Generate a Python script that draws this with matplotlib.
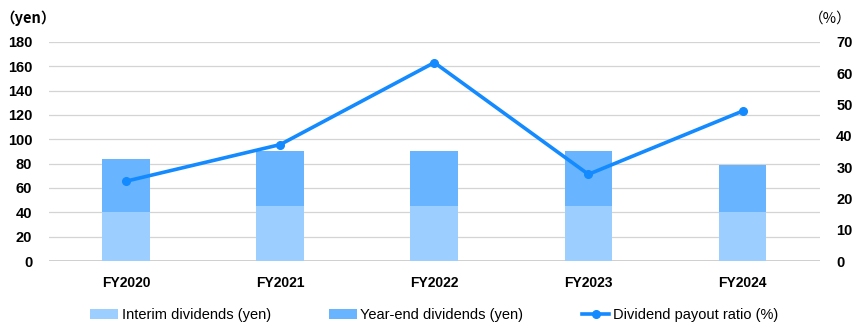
import matplotlib.pyplot as plt
import numpy as np

plt.rcParams['font.family'] = ['Liberation Sans', 'DejaVu Sans']

years = ['FY2020', 'FY2021', 'FY2022', 'FY2023', 'FY2024']
interim = [40, 45, 45, 45, 40]
year_end = [44, 45, 45, 45, 39]
payout = [25.5, 37.2, 63.4, 27.7, 47.9]

c_interim = '#9ccfff'
c_yearend = '#68b4ff'
c_line = '#148aff'

fig = plt.figure(figsize=(8.6, 3.3), dpi=100)
ax = fig.add_axes([0.057, 0.209, 0.896, 0.664])
x = np.arange(len(years))

ax.bar(x, interim, width=0.31, color=c_interim, label='Interim dividends (yen)', zorder=2)
ax.bar(x, year_end, width=0.31, bottom=interim, color=c_yearend, label='Year-end dividends (yen)', zorder=2)

ax.set_xlim(-0.5, 4.5)
ax.set_ylim(0, 180)
ax.set_yticks(range(0, 181, 20))
ax.yaxis.grid(True, color='#d4d4d4', linewidth=0.9, zorder=0)
ax.set_axisbelow(True)
for s in ax.spines.values():
    s.set_visible(False)
ax.axhline(0, color='#c8c8c8', linewidth=1.2, zorder=1)
ax.tick_params(length=0)
ax.set_xticks(x)
ax.set_xticklabels(years, fontweight='bold', fontsize=10)
ax.tick_params(axis='x', pad=11)
ax.tick_params(axis='y', pad=12)
for t in ax.get_yticklabels():
    t.set_fontweight('bold')
    t.set_fontsize(10.5)

ax2 = ax.twinx()
ax2.plot(x, payout, color=c_line, linewidth=2.6, marker='o', markersize=5.5,
         label='Dividend payout ratio (%)', zorder=3)
ax2.set_ylim(0, 70)
ax2.set_yticks(range(0, 71, 10))
for s in ax2.spines.values():
    s.set_visible(False)
ax2.tick_params(length=0, pad=12)
for t in ax2.get_yticklabels():
    t.set_fontweight('bold')
    t.set_fontsize(10.5)

fig.text(0.0, 0.945, '（yen）', fontsize=10.5, fontweight='bold',
         family=['Noto Sans CJK JP', 'DejaVu Sans'], va='center')
fig.text(0.99, 0.945, '（%）', fontsize=10.5, ha='right',
         family=['Noto Sans CJK JP', 'DejaVu Sans'], va='center')

h1, l1 = ax.get_legend_handles_labels()
h2, l2 = ax2.get_legend_handles_labels()
fig.legend(h1 + h2, l1 + l2, loc='center', bbox_to_anchor=(0.505, 0.045), ncol=3,
           frameon=False, fontsize=10.5, columnspacing=4.0, handlelength=1.9,
           handletextpad=0.25)

fig.savefig('out.png', dpi=100)
